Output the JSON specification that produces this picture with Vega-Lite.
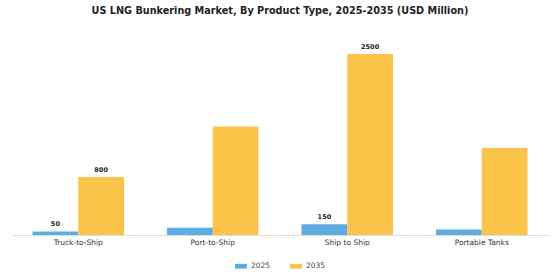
{
  "$schema": "https://vega.github.io/schema/vega-lite/v6.json",
  "autosize": "none",
  "width": 538,
  "height": 200,
  "padding": {"left": 11, "top": 35, "right": 11, "bottom": 45},
  "background": "white",
  "config": {"view": {"stroke": null}},
  "title": {
    "text": "US LNG Bunkering Market, By Product Type, 2025-2035 (USD Million)",
    "font": "DejaVu Sans",
    "fontSize": 9.7,
    "fontWeight": "bold",
    "color": "#222222",
    "anchor": "middle",
    "offset": 19
  },
  "data": {
    "values": [
      {"type": "Truck-to-Ship", "year": "2025", "value": 50, "label": "50"},
      {"type": "Truck-to-Ship", "year": "2035", "value": 800, "label": "800"},
      {"type": "Port-to-Ship", "year": "2025", "value": 100, "label": ""},
      {"type": "Port-to-Ship", "year": "2035", "value": 1500, "label": ""},
      {"type": "Ship to Ship", "year": "2025", "value": 150, "label": "150"},
      {"type": "Ship to Ship", "year": "2035", "value": 2500, "label": "2500"},
      {"type": "Portable Tanks", "year": "2025", "value": 75, "label": ""},
      {"type": "Portable Tanks", "year": "2035", "value": 1200, "label": ""}
    ]
  },
  "encoding": {
    "x": {
      "field": "type",
      "type": "nominal",
      "sort": null,
      "scale": {"paddingInner": 0.32, "paddingOuter": 0.16},
      "axis": {
        "title": null,
        "labelAngle": 0,
        "labelFont": "DejaVu Sans",
        "labelFontSize": 7.5,
        "labelColor": "#333333",
        "labelPadding": 3,
        "ticks": false,
        "domainColor": "#dddddd",
        "domainWidth": 1
      }
    },
    "xOffset": {"field": "year", "type": "nominal"},
    "y": {
      "field": "value",
      "type": "quantitative",
      "scale": {"domain": [0, 2762]},
      "axis": null
    }
  },
  "layer": [
    {
      "mark": {"type": "bar"},
      "encoding": {
        "color": {
          "field": "year",
          "type": "nominal",
          "scale": {"domain": ["2025", "2035"], "range": ["#5DADE2", "#F9C449"]},
          "legend": {
            "title": null,
            "orient": "none",
            "legendX": 224,
            "legendY": 225,
            "direction": "horizontal",
            "labelFont": "DejaVu Sans",
            "labelFontSize": 7.5,
            "labelColor": "#444444",
            "symbolType": "M-1,-0.4L1,-0.4L1,0.4L-1,0.4Z",
            "symbolSize": 144,
            "symbolStrokeWidth": 0,
            "columnPadding": 19
          }
        }
      }
    },
    {
      "mark": {
        "type": "text",
        "dy": -7,
        "font": "DejaVu Sans",
        "fontSize": 6.5,
        "fontWeight": "bold",
        "color": "#222222"
      },
      "encoding": {
        "text": {"field": "label"}
      }
    }
  ]
}
